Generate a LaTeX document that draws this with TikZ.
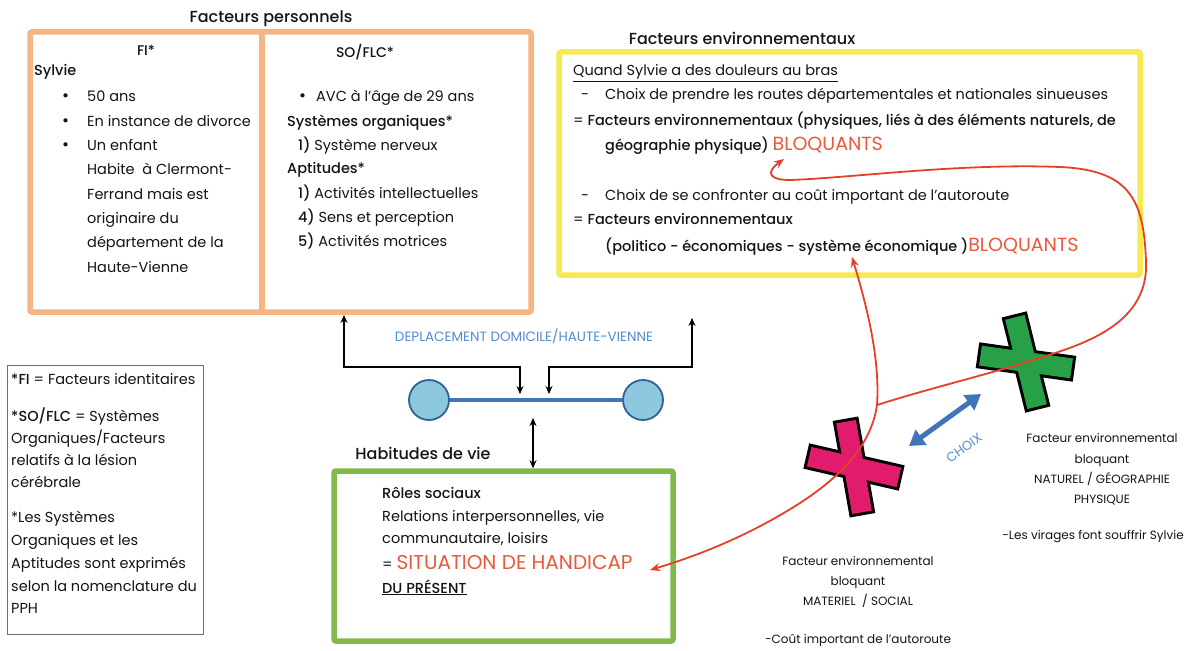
\documentclass[tikz,border=0pt]{standalone}
\usepackage{fontspec}
\setmainfont{Poppins}[BoldFont={Poppins Medium}]
\usetikzlibrary{arrows.meta}
\definecolor{cOrange}{RGB}{246,180,132}
\definecolor{cYellow}{RGB}{246,234,80}
\definecolor{cGreen}{RGB}{128,186,76}
\definecolor{cRed}{RGB}{232,64,40}
\definecolor{cRedTxt}{RGB}{236,88,58}
\definecolor{cBlueTxt}{RGB}{86,140,204}
\definecolor{cBar}{RGB}{66,116,186}
\definecolor{cCircFill}{RGB}{142,200,222}
\definecolor{cCircDraw}{RGB}{48,98,150}
\definecolor{cPink}{RGB}{226,28,108}
\definecolor{cGreenX}{RGB}{40,160,72}
\definecolor{cGray}{RGB}{110,110,110}
\definecolor{cText}{RGB}{20,20,20}
\begin{document}
\begin{tikzpicture}[x=1pt,y=-1pt,
  body/.style={anchor=base west, inner sep=0, text=cText, font=\fontsize{14.5}{17}\selectfont},
  ttl/.style={inner sep=0, text=cText, font=\fontsize{16}{18}\selectfont\bfseries},
  small/.style={anchor=base, inner sep=0, text=cText, font=\fontsize{12}{14}\selectfont},
  bigbox/.style={draw=#1, line width=5.5pt, rounded corners=2pt, inner sep=0},
  conn/.style={draw=black, line width=1.1pt, {Stealth[length=8pt,width=7pt]}-{Stealth[length=8pt,width=7pt]}},
  redc/.style={draw=cRed, line width=1.8pt},
  redtip/.style={-{Stealth[length=10pt,width=8pt]}},
  circ/.style={circle, draw=cCircDraw, fill=cCircFill, line width=1.8pt, minimum size=40pt, inner sep=0},
  xout/.style={draw=black, line width=6pt, line join=miter},
  xfill/.style={fill=#1}
]
\useasboundingbox[fill=white] (0,0) rectangle (1190,650);

% ---------- Facteurs personnels ----------
\node[ttl] (tpers) at (271,19) {Facteurs personnels};
\node[bigbox=cOrange, minimum width=501pt, minimum height=280pt] (pers) at (280.5,172) {};
\draw[cOrange, line width=5.5pt] (262,32) -- (262,312);

\node[body, anchor=base, font=\fontsize{14}{16}\selectfont\bfseries] (fi) at (146,56) {FI*};
\node[body, font=\fontsize{14.5}{17}\selectfont\bfseries] (sylvie) at (34,76) {Sylvie};
\foreach \i in {0,1,2} \node[body, font=\fontsize{17}{17}\selectfont] (bul\i) at (62,{102+24.3*\i}) {•};
\foreach \t [count=\i from 0] in {50 ans, En instance de divorce, Un enfant, Habite~ à Clermont-, Ferrand mais est, originaire du, département de la, Haute-Vienne}
  \node[body] (fil\i) at (87,{102+24.3*\i}) {\t};

\node[body, anchor=base, font=\fontsize{14}{16}\selectfont\bfseries] (so) at (365,58) {SO/FLC*};
\node[body, font=\fontsize{17}{17}\selectfont] (bul3) at (299,102) {•};
\node[body] (avc) at (316,102) {AVC à l’âge de 29 ans};
\node[body] (sysorg) at (287,126) {\bfseries Systèmes organiques*};
\node[body] (sn) at (298,150) {{\bfseries 1)} Système nerveux};
\node[body] (apt) at (287,173) {\bfseries Aptitudes*};
\node[body] (ap1) at (298,198) {{\bfseries 1)} Activités intellectuelles};
\node[body] (ap4) at (298,222) {{\bfseries 4)} Sens et perception};
\node[body] (ap5) at (298,246) {{\bfseries 5)} Activités motrices};

% ---------- Facteurs environnementaux ----------
\node[ttl] (tenv) at (742,38) {Facteurs environnementaux};
\node[bigbox=cYellow, minimum width=581pt, minimum height=223pt] (env) at (849.5,163.5) {};
\node[body] (e1) at (573,76) {\underline{Quand Sylvie a des douleurs au bras}};
\node[body] (e2d) at (581,100) {-};
\node[body] (e2) at (605,100) {Choix de prendre les routes départementales et nationales sinueuses};
\node[body] (e3) at (573,125) {= {\bfseries Facteurs environnementaux (physiques, liés à des éléments naturels, de}};
\node[body] (e4) at (605,150) {{\bfseries géographie physique)} \textcolor{cRedTxt}{\fontsize{19}{20}\selectfont BLOQUANTS}};
\node[body] (e5d) at (581,200) {-};
\node[body] (e5) at (605,200) {Choix de se confronter au coût important de l’autoroute};
\node[body] (e6) at (573,224) {= {\bfseries Facteurs environnementaux}};
\node[body] (e7) at (605,251) {{\bfseries (politico - économiques - système économique )}\textcolor{cRedTxt}{\fontsize{19}{20}\selectfont BLOQUANTS}};

% ---------- Legend ----------
\node[draw=cGray, line width=0.8pt, minimum width=196pt, minimum height=269pt, inner sep=0] (leg) at (105,499.5) {};
\node[body] (l1) at (11,384) {{\bfseries *FI} = Facteurs identitaires};
\node[body] (l2) at (11,421) {{\bfseries *SO/FLC} = Systèmes};
\node[body] (l3) at (11,443) {Organiques/Facteurs};
\node[body] (l4) at (11,465) {relatifs à la lésion};
\node[body] (l5) at (11,487) {cérébrale};
\node[body] (l6) at (11,522) {*Les Systèmes};
\node[body] (l7) at (11,545) {Organiques et les};
\node[body] (l8) at (11,568) {Aptitudes sont exprimés};
\node[body] (l9) at (11,591) {selon la nomenclature du};
\node[body] (l10) at (11,613) {PPH};

% ---------- Habitudes de vie ----------
\node[ttl] (thab) at (423,453) {Habitudes de vie};
\node[bigbox=cGreen, minimum width=339pt, minimum height=170pt] (hab) at (503.5,556) {};
\node[body] (h1) at (382,498) {\bfseries Rôles sociaux};
\node[body] (h2) at (382,521) {Relations interpersonnelles, vie};
\node[body] (h3) at (382,543) {communautaire, loisirs};
\node[body] (h4) at (382,569) {= \textcolor{cRedTxt}{\fontsize{20}{21}\selectfont SITUATION DE HANDICAP}};
\node[body] (h5) at (382,593) {\bfseries\underline{DU PRÉSENT}};

% ---------- Deplacement bar ----------
\node[inner sep=0, text=cBlueTxt, font=\fontsize{13.5}{15}\selectfont] (dep) at (524,336) {DEPLACEMENT DOMICILE/HAUTE-VIENNE};
\node[circ] (cL) at (429,400) {};
\node[circ] (cR) at (643,400) {};
\draw[cBar, line width=4.5pt] (cL) -- (cR);

\coordinate (pL) at (344,315);
\coordinate (bL) at (520,394);
\coordinate (bR) at (549,394);
\coordinate (pR) at (692,318);
\draw[conn] (pL) -- ++(0,52) -| (bL);
\draw[conn] (bR) -- ++(0,-27) -| (pR);
\coordinate (v1) at (533,418);
\draw[conn] (v1) -- (v1 |- hab.north);

% ---------- Crosses ----------
\path[xout] [rotate around={10:(854,467)}] (844,421) rectangle (864,513);
\path[xout] [rotate around={-13:(854,467)}] (808,457) rectangle (900,477);
\path[xfill=cPink] [rotate around={10:(854,467)}] (844,421) rectangle (864,513);
\path[xfill=cPink] [rotate around={-13:(854,467)}] (808,457) rectangle (900,477);

\path[xout] [rotate around={14:(1026,362)}] (1016,316) rectangle (1036,408);
\path[xout] [rotate around={-8:(1026,362)}] (980,352) rectangle (1072,372);
\path[xfill=cGreenX] [rotate around={14:(1026,362)}] (1016,316) rectangle (1036,408);
\path[xfill=cGreenX] [rotate around={-8:(1026,362)}] (980,352) rectangle (1072,372);

% ---------- Red curves ----------
\coordinate (rA1) at (852,257);
\coordinate (rA2) at (650,570);
\coordinate (J) at (877,405);
\coordinate (rB) at (784,159);
\draw[redc, {Stealth[length=10pt,width=8pt]}-{Stealth[length=10pt,width=8pt]}]
  (rA1) .. controls (868,310) and (880,360) .. (J)
        .. controls (872,440) and (848,472) .. (800,503)
        .. controls (750,535) and (700,555) .. (rA2);
\draw[redc, redtip]
  (J) .. controls (940,385) and (1000,372) .. (1064,350)
      .. controls (1110,334) and (1148,310) .. (1146,262)
      .. controls (1144,200) and (1130,170) .. (1060,167)
      .. controls (960,163) and (850,178) .. (790,180)
      .. controls (768,180) and (766,172) .. (rB);

% ---------- CHOIX ----------
\coordinate (ch1) at (909,446);
\coordinate (ch2) at (981,394);
\draw[cBar, line width=5pt, {Triangle[length=15pt,width=18pt]}-{Triangle[length=15pt,width=18pt]}] (ch1) -- (ch2);
\node[inner sep=0, text=cBlueTxt, font=\fontsize{13}{14}\selectfont, rotate=36] (choix) at (964,448) {CHOIX};

% ---------- Descriptions ----------
\node[small] (g1) at (1102,442) {Facteur environnemental};
\node[small] (g2) at (1102,463) {bloquant};
\node[small] (g3) at (1102,483) {NATUREL / GÉOGRAPHIE};
\node[small] (g4) at (1102,503) {PHYSIQUE};
\node[small] (g5) at (1093,539) {-Les virages font souffrir Sylvie};

\node[small] (p1) at (858,565) {Facteur environnemental};
\node[small] (p2) at (858,585) {bloquant};
\node[small] (p3) at (858,605) {MATERIEL~ / SOCIAL};
\node[small] (p4) at (858,643) {-Coût important de l’autoroute};
\end{tikzpicture}
\end{document}
